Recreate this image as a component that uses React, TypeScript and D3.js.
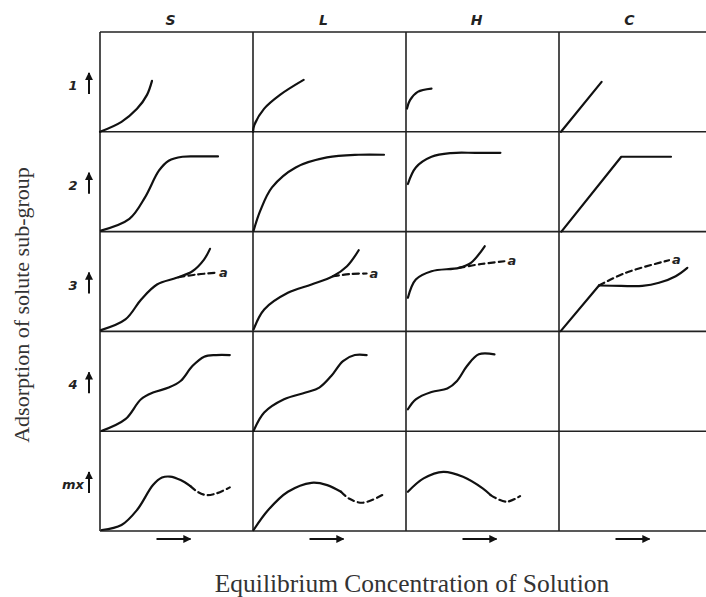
import React from 'react';
import * as d3 from 'd3';

// Column (class) and row (sub-group) labels
const columns = ['S', 'L', 'H', 'C'];
const rows = ['1', '2', '3', '4', 'mx'];
const xTitle = 'Equilibrium Concentration of Solution';
const yTitle = 'Adsorption of solute sub-group';

// Curve points in cell units: x 0..153 (concentration), y 0..100 (adsorption)
const S1 = [[0, 0], [21.5, 10], [37, 23], [47, 37], [52, 51]];
const L1 = [[0, 0], [1.4, 7], [11, 23], [27, 37], [50.6, 52]];
const H1 = [[1, 23.3], [4, 31.7], [11.7, 40], [25.5, 43.3]];
const C1 = [[2, 0], [42.6, 50]];

const S2 = [[1, 1], [29.4, 12.7], [45, 34.3], [58.9, 61], [68.7, 71], [82.5, 75], [100, 75.3], [118, 75.3]];
const L2 = [[0.6, 1], [7.3, 21], [19, 44.3], [42.7, 64.3], [74, 74.3], [105.7, 77], [131, 77]];
const H2 = [[1.9, 47.7], [9.8, 64.3], [25.5, 75], [45, 78.7], [70, 78.9], [94.4, 78.9]];
const C2 = [[2.4, 0], [62.3, 75], [112, 75]];

const S3 = [[1, 1.3], [25.4, 12], [41.2, 32], [57, 47], [76.6, 53.7], [92.4, 60.3], [104, 72], [110, 82.7]];
const S3a = [[78.6, 54.3], [96.3, 57], [116, 58.7]];
const L3 = [[0.6, 2], [11.2, 22], [34.9, 38.7], [58.5, 47], [80, 55.3], [94, 65.3], [105.7, 81.3]];
const L3a = [[80, 55.3], [97, 57.5], [113.6, 58]];
const H3 = [[1.9, 33.7], [9.8, 52], [25.5, 60.3], [53, 63.7], [64.9, 68.7], [78.7, 85.3]];
const H3a = [[53, 63.7], [75, 67.5], [98.4, 70.3]];
const C3lin = [[1.7, 0.3], [40, 46]];
const C3 = [[40, 46], [62, 45.6], [83.3, 45.6], [100, 48.7], [116.7, 55.3], [128.3, 63.7]];
const C3a = [[40, 46], [66.7, 58.7], [110, 71.3]];

const S4 = [[1.8, 0.3], [25.4, 12], [41, 32], [53, 38.7], [68.7, 43.7], [80.6, 50.3], [92.4, 65.3], [104.2, 74.7], [116, 76.3], [129.8, 76.3]];
const L4 = [[0.6, 0.3], [11.2, 18.7], [31, 32], [52.6, 38.7], [66.3, 43.7], [78.2, 55.3], [90, 70.3], [101.8, 76.3], [113.6, 76.3]];
const H4 = [[1.9, 22], [9.8, 32], [25.5, 39.3], [41.3, 42.7], [51, 50.3], [61, 65.3], [72.8, 77], [88.5, 77]];

const S5 = [[1.8, 1], [21.5, 6], [37, 21], [53, 46], [62, 53.5], [70, 54.5], [80.6, 51], [90.4, 45]];
const S5a = [[90.4, 45], [98, 39], [106, 36], [116, 37.5], [129.8, 43.7]];
const L5 = [[0.6, 1], [15.2, 21], [34.9, 39.3], [58.5, 48.3], [74.2, 46], [88, 39.3]];
const L5a = [[88, 39.3], [96, 32.5], [109.7, 28.3], [129.3, 36]];
const H5 = [[1.9, 39.3], [17.6, 52.7], [37.3, 59.3], [57, 54.3], [76.7, 42.7], [84.6, 36]];
const H5a = [[84.6, 36], [100.3, 29.3], [114, 35]];

type Curve = { row: number; col: number; pts: number[][]; dashed?: boolean; linear?: boolean; label?: string };

const curves: Curve[] = [
  { row: 0, col: 0, pts: S1 },
  { row: 0, col: 1, pts: L1 },
  { row: 0, col: 2, pts: H1 },
  { row: 0, col: 3, pts: C1, linear: true },
  { row: 1, col: 0, pts: S2 },
  { row: 1, col: 1, pts: L2 },
  { row: 1, col: 2, pts: H2 },
  { row: 1, col: 3, pts: C2, linear: true },
  { row: 2, col: 0, pts: S3 },
  { row: 2, col: 0, pts: S3a, dashed: true, label: 'a' },
  { row: 2, col: 1, pts: L3 },
  { row: 2, col: 1, pts: L3a, dashed: true, label: 'a' },
  { row: 2, col: 2, pts: H3 },
  { row: 2, col: 2, pts: H3a, dashed: true, label: 'a' },
  { row: 2, col: 3, pts: C3lin, linear: true },
  { row: 2, col: 3, pts: C3 },
  { row: 2, col: 3, pts: C3a, dashed: true, label: 'a' },
  { row: 3, col: 0, pts: S4 },
  { row: 3, col: 1, pts: L4 },
  { row: 3, col: 2, pts: H4 },
  { row: 4, col: 0, pts: S5 },
  { row: 4, col: 0, pts: S5a, dashed: true },
  { row: 4, col: 1, pts: L5 },
  { row: 4, col: 1, pts: L5a, dashed: true },
  { row: 4, col: 2, pts: H5 },
  { row: 4, col: 2, pts: H5a, dashed: true },
];

const W = 706;
const H = 597;
const LEFT = 100;
const TOP = 32;
const CELL_W = 153;
const BOTTOM = 531;

export default function App() {
  const colX = d3.scaleLinear().domain([0, 4]).range([LEFT, LEFT + 4 * CELL_W]);
  const rowY = d3.scaleLinear().domain([0, 5]).range([TOP, BOTTOM]);
  const labelFont = '"DejaVu Sans", sans-serif';
  const ink = '#111';

  const cellScales = (row: number, col: number) => {
    const x = d3.scaleLinear().domain([0, CELL_W]).range([colX(col), colX(col) + CELL_W]);
    const y = d3.scaleLinear().domain([0, 100]).range([rowY(row + 1), rowY(row)]);
    return { x, y };
  };

  return (
    <svg width={W} height={H} style={{ position: 'absolute', left: 0, top: 0, background: '#fff' }}>
      <defs>
        <marker id="ah" viewBox="0 0 10 10" refX="9" refY="5" markerWidth="4" markerHeight="4" orient="auto">
          <path d="M0,0 L10,5 L0,10 z" fill={ink} />
        </marker>
      </defs>
      <rect x={0} y={0} width={W} height={H} fill="#fff" />
      {/* grid */}
      {d3.range(0, 6).map((r) => (
        <line key={'h' + r} x1={LEFT} x2={W} y1={rowY(r)} y2={rowY(r)} stroke="#222" strokeWidth={1.6} />
      ))}
      {d3.range(0, 4).map((c) => (
        <line key={'v' + c} x1={colX(c)} x2={colX(c)} y1={TOP} y2={BOTTOM} stroke="#222" strokeWidth={1.6} />
      ))}
      {/* column labels */}
      {columns.map((c, i) => (
        <text key={c} x={colX(i) + CELL_W / 2 - 6} y={25} textAnchor="middle" fontFamily={labelFont}
          fontWeight="bold" fontStyle="italic" fontSize={14} fill="#222">{c}</text>
      ))}
      {/* row labels + arrows */}
      {rows.map((r, i) => {
        const cy = (rowY(i) + rowY(i + 1)) / 2 + 3;
        return (
          <g key={r}>
            <text x={73} y={cy + 5} textAnchor="middle" fontFamily={labelFont} fontWeight="bold"
              fontStyle="italic" fontSize={13} fill="#222">{r}</text>
            <line x1={89} x2={89} y1={cy + 9} y2={cy - 12} stroke={ink} strokeWidth={2} markerEnd="url(#ah)" />
          </g>
        );
      })}
      {/* bottom arrows */}
      {columns.map((c, i) => {
        const cx = colX(i) + CELL_W / 2 - 3;
        return (
          <line key={'a' + c} x1={cx - 17} x2={cx + 17} y1={539} y2={539} stroke={ink} strokeWidth={2}
            markerEnd="url(#ah)" />
        );
      })}
      {/* curves */}
      {curves.map((cv, k) => {
        const { x, y } = cellScales(cv.row, cv.col);
        const gen = d3.line<number[]>()
          .x((d) => x(d[0]))
          .y((d) => y(d[1]))
          .curve(cv.linear ? d3.curveLinear : d3.curveCatmullRom.alpha(0.5));
        const last = cv.pts[cv.pts.length - 1];
        return (
          <g key={k}>
            <path d={gen(cv.pts) || ''} fill="none" stroke={ink} strokeWidth={2.2}
              strokeDasharray={cv.dashed ? '6,4' : undefined} strokeLinecap="round" strokeLinejoin="round" />
            {cv.label && (
              <text x={x(last[0]) + 3} y={y(last[1]) + 4} fontFamily={labelFont} fontWeight="bold"
                fontStyle="italic" fontSize={13} fill="#222">{cv.label}</text>
            )}
          </g>
        );
      })}
      {/* axis titles */}
      <text x={412} y={592} textAnchor="middle" fontFamily='"Liberation Serif", "Times New Roman", serif'
        fontSize={25.5} fill="#333">{xTitle}</text>
      <text transform="translate(29,305) rotate(-90)" textAnchor="middle"
        fontFamily='"Liberation Serif", "Times New Roman", serif' fontSize={22} fill="#333">{yTitle}</text>
    </svg>
  );
}
